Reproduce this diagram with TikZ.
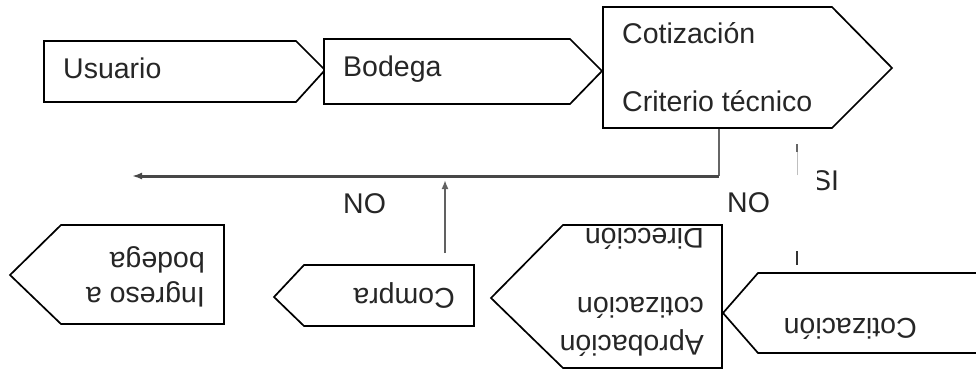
\documentclass[tikz,border=0pt]{standalone}
\usepackage{fontspec}
\setmainfont{Liberation Sans}
\usetikzlibrary{arrows.meta}
\begin{document}
\begin{tikzpicture}[x=1pt,y=-1pt,
  shapebox/.style={draw=black,line width=1.7pt,line join=miter,fill=white},
  txt/.style={inner sep=0pt,anchor=base west,text=black!85,font=\fontsize{28.5}{33}\selectfont},
  rtxt/.style={txt,rotate=180},
  mainline/.style={draw=black!72,line width=3pt},
  thinline/.style={draw=black!60,line width=1.4pt},
  uparrow/.style={draw=black!62,line width=2.6pt,-{Latex[length=9pt,width=7pt]}}]
\useasboundingbox (0,0) rectangle (976,372);
\fill[white] (0,0) rectangle (976,372);

% top row shapes
\path[shapebox] (44,41) -- (296,41) -- (325,70) -- (296,102) -- (44,102) -- cycle;
\path[shapebox] (324,39) -- (570,39) -- (602,71) -- (570,104) -- (324,104) -- cycle;
\path[shapebox] (603,7) -- (832,7) -- (892,68) -- (832,128) -- (603,128) -- cycle;
\node[txt] (usuario) at (63,78) {Usuario};
\node[txt] (bodega) at (343,76) {Bodega};
\node[txt] (cot1) at (622,43) {Cotización};
\node[txt] (crit) at (622,111) {Criterio técnico};

% bottom row shapes
\path[shapebox] (10,275) -- (61,225) -- (224,225) -- (224,324) -- (61,324) -- cycle;
\path[shapebox] (274,297) -- (304,265) -- (474,265) -- (474,326) -- (304,326) -- cycle;
\path[shapebox] (491,298) -- (563,225) -- (722,225) -- (722,368) -- (563,368) -- cycle;
\path[shapebox] (723,313) -- (758,273) -- (985,273) -- (985,353) -- (758,353) -- cycle;

\node[rtxt] (ingreso) at (205,287) {Ingreso a};
\node[rtxt] (bodega2) at (205,252) {bodega};
\node[rtxt] (compra) at (455,288) {Compra};
\node[rtxt] (aprob) at (704,335) {Aprobación};
\node[rtxt] (cotiz2) at (704,297) {cotización};
\begin{scope}
\clip (563,226.5) rectangle (721,300);
\node[rtxt] (direc) at (704,228) {Dirección};
\end{scope}
\node[rtxt] (cot3) at (917,318) {Cotización};

% labels
\node[txt] (no1) at (343,213) {NO};
\node[txt] (no2) at (727,212) {NO};
\begin{scope}
\clip (817,166) rectangle (850,192);
\node[txt] (si) at (812,190) {SI};
\end{scope}

% connectors
\coordinate (cotbot) at (719,128.8);
\coordinate (corner) at (719,176);
\coordinate (leftend) at (132,176);
\coordinate (compratop) at (445,253);
\coordinate (uptip) at (445,180);
\draw[thinline] (cotbot) -- (corner);
\draw[mainline,-{Latex[length=10pt,width=7pt]}] (corner) -- (leftend);
\draw[uparrow] (compratop) -- (uptip);

\coordinate (sia) at (797,175);
\coordinate (sib) at (797,144);
\draw[draw=black!25,line width=0.8pt] (sia) -- (sib);
\draw[draw=black!60,line width=1.8pt] (797,152) -- (sib);
\coordinate (sic) at (797,251);
\coordinate (sid) at (797,265);
\draw[draw=black!80,line width=2.4pt] (sic) -- (sid);
\end{tikzpicture}
\end{document}
